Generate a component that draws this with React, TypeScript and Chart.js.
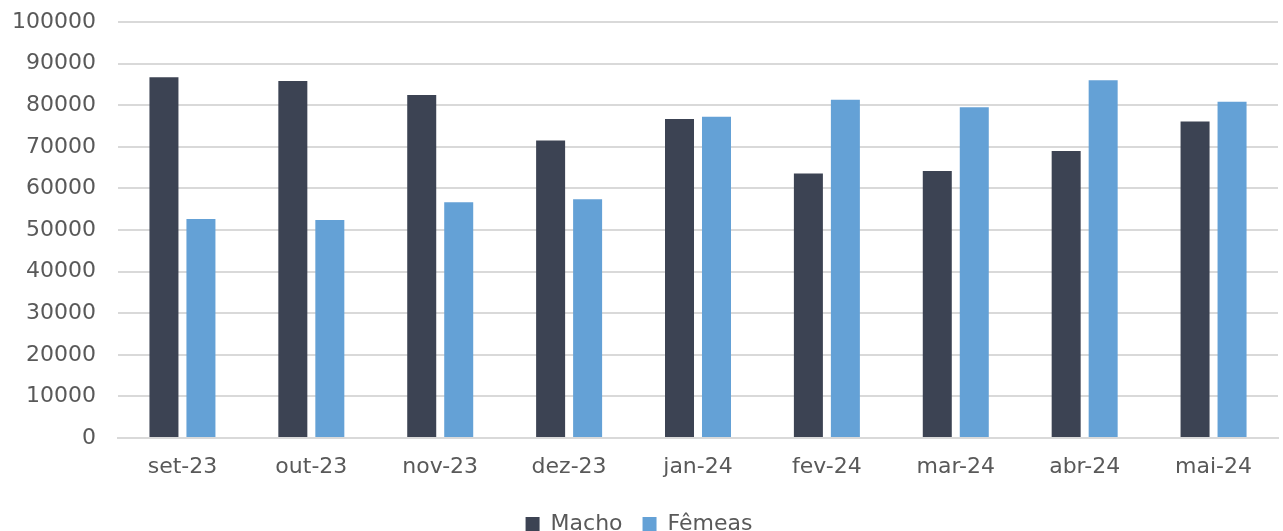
import React, { useEffect, useRef } from "react";
import { Chart, registerables } from "chart.js";

Chart.register(...registerables);

const categories = ["set-23", "out-23", "nov-23", "dez-23", "jan-24", "fev-24", "mar-24", "abr-24", "mai-24"];
const machoValues = [86700, 85800, 82450, 71500, 76700, 63600, 64200, 69000, 76100];
const femeasValues = [52650, 52400, 56700, 57400, 77200, 81300, 79500, 86000, 80800];
const seriesNames = ["Macho", "Fêmeas"];

const FONT = "'DejaVu Sans', sans-serif";
const TEXT = "#595959";

export default function App() {
  const ref = useRef<HTMLCanvasElement | null>(null);

  useEffect(() => {
    if (!ref.current) return;
    const chart = new Chart(ref.current, {
      type: "bar",
      data: {
        labels: categories,
        datasets: [
          {
            label: seriesNames[0],
            data: machoValues,
            backgroundColor: "#3c4353",
            borderWidth: 0,
            categoryPercentage: 0.574,
            barPercentage: 0.784,
          },
          {
            label: seriesNames[1],
            data: femeasValues,
            backgroundColor: "#64a1d6",
            borderWidth: 0,
            categoryPercentage: 0.574,
            barPercentage: 0.784,
          },
        ],
      },
      options: {
        animation: false,
        responsive: true,
        maintainAspectRatio: false,
        layout: { padding: { top: 22, right: 27, left: 0, bottom: 0 } },
        plugins: {
          tooltip: { enabled: false },
          legend: {
            position: "bottom",
            labels: {
              color: TEXT,
              font: { family: FONT, size: 22 },
              boxWidth: 14,
              boxHeight: 14,
              padding: 20,
            },
          },
        },
        scales: {
          x: {
            grid: { display: false, drawTicks: false },
            border: { display: true, color: "#d9d9d9", width: 2 },
            ticks: { color: TEXT, font: { family: FONT, size: 22 }, padding: 16, maxRotation: 0 },
            afterFit: (s: any) => {
              s.height = 55;
            },
          },
          y: {
            min: 0,
            max: 100000,
            grid: { color: "#d9d9d9", lineWidth: 2, drawTicks: false },
            border: { display: false },
            ticks: {
              stepSize: 10000,
              color: TEXT,
              font: { family: FONT, size: 22 },
              padding: 22,
              callback: (v: any) => String(v),
            },
            afterFit: (s: any) => {
              s.width = 118;
              s.paddingTop = 0;
              s.paddingBottom = 0;
            },
          },
        },
      },
    });
    return () => chart.destroy();
  }, []);

  return (
    <div style={{ position: "fixed", left: 0, top: 0, width: 1305, height: 545, background: "#fff" }}>
      <canvas ref={ref} />
    </div>
  );
}
